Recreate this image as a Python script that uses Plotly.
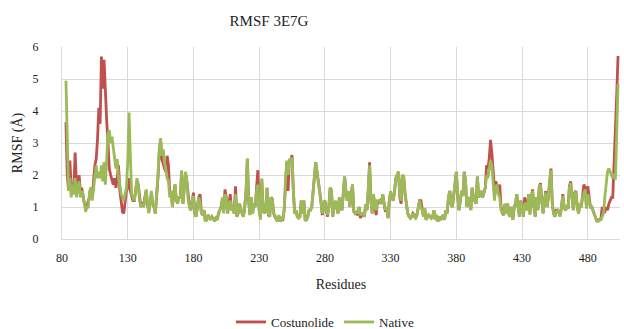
import plotly.graph_objects as go

start_residue = 83

native = [
    4.95, 2.6, 1.5, 1.9, 1.3, 1.7, 1.4, 1.9, 1.3, 1.6, 1.8, 1.3, 1.5, 1.4, 1.1, 0.85, 1.0, 1.0,
    1.5, 1.6, 1.2, 1.6, 1.9, 2.3, 1.9, 2.1, 1.9, 2.3, 1.8, 2.4, 1.7, 2.6, 3.3, 3.4, 3.0, 3.2, 2.8, 2.5,
    2.2, 2.5, 1.9, 1.7, 1.4, 1.3, 1.2, 1.4, 1.6, 2.4, 3.95, 2.6, 1.4, 1.3, 1.2, 1.5, 1.9, 1.7, 1.2, 1.0,
    1.1, 1.0, 1.2, 1.55, 1.1, 0.8, 1.1, 1.5, 1.1, 1.0, 0.8, 1.3, 2.0, 2.8, 3.15, 2.6, 2.8, 2.4, 2.1, 1.9,
    1.8, 1.3, 1.5, 1.0, 1.4, 1.7, 1.2, 1.1, 1.3, 1.3, 2.15, 1.1, 1.6, 2.1, 1.8, 1.2, 1.0, 0.9, 1.2, 1.35,
    0.8, 0.7, 1.0, 1.3, 1.15, 0.8, 0.75, 0.9, 0.55, 0.6, 0.75, 0.65, 0.6, 0.7, 0.65, 0.55, 0.65, 0.6, 0.8, 0.9,
    1.0, 1.3, 0.8, 1.4, 1.3, 0.8, 1.1, 1.2, 0.9, 1.0, 0.8, 1.4, 0.7, 0.8, 1.1, 0.9, 0.8, 0.7, 1.0, 1.5, 2.52,
    1.2, 0.75, 1.3, 0.8, 1.1, 1.0, 1.5, 1.7, 0.9, 0.6, 1.9, 0.9, 0.8, 0.9, 1.6, 0.8, 0.7, 1.3, 1.2, 0.8,
    0.75, 0.6, 0.55, 0.75, 0.55, 0.65, 0.6, 0.9, 1.8, 2.45, 2.0, 2.5, 2.4, 2.55, 1.5, 0.8, 0.9, 0.7, 0.65, 0.7,
    1.2, 0.8, 1.2, 0.6, 0.6, 0.7, 0.9, 0.9, 1.0, 1.4, 2.0, 2.4, 2.1, 1.8, 1.5, 1.2, 0.8, 1.0, 1.2, 0.9,
    0.75, 1.0, 1.6, 1.55, 0.7, 1.0, 1.2, 1.0, 0.8, 1.3, 1.0,
    0.9, 1.4, 1.95, 1.5, 1.2, 1.5, 1.0, 1.4, 1.7, 0.9, 0.8, 0.85, 0.8, 1.0, 0.75, 0.8, 0.8, 0.7, 1.1, 0.9,
    1.5, 2.3, 1.2, 0.8, 1.4, 1.0, 0.9, 1.2, 1.2, 1.2, 1.1, 1.4, 1.1, 0.9, 1.0, 0.65, 1.2, 1.5, 1.3, 1.2,
    1.5, 1.9, 2.0, 2.1, 1.4, 1.2, 2.0, 1.95, 1.4, 1.1, 0.8, 0.7, 0.65, 0.7, 0.8, 0.7, 0.65, 0.75, 1.0, 1.2,
    1.0, 0.9, 0.7, 0.95, 0.6, 0.7, 0.75, 0.7, 0.65, 0.7, 0.9,
    0.6, 0.75, 0.55, 0.7, 0.6, 0.7, 0.75, 0.6, 0.9, 0.8, 1.3, 1.5, 1.1, 1.0, 1.4, 1.6, 2.1, 1.4, 0.9, 1.2,
    1.5, 1.35, 2.1, 1.8, 1.0, 1.25, 1.3, 0.9, 1.6, 1.3, 1.2, 1.1, 1.95, 1.3, 1.4, 1.5, 1.3, 1.5, 1.6, 2.0,
    1.9, 2.2, 2.45, 2.3, 1.8, 1.2, 1.6, 1.7, 1.4, 1.3, 0.9, 0.8, 0.75, 1.1, 0.8, 1.1, 0.75, 0.7, 1.0, 0.6,
    1.0, 1.1, 1.4, 1.0, 0.7, 1.2, 1.0, 0.7, 1.1,
    1.1, 0.9, 1.4, 0.75, 1.3, 1.5, 1.0, 0.7, 1.3, 0.9, 1.6, 1.7, 1.2, 0.8, 1.2, 1.45, 1.0, 1.3, 1.8, 2.15,
    1.1, 0.8, 0.7, 0.85, 0.9, 0.8, 0.7, 1.0, 1.35, 1.0, 0.9, 1.0, 0.95, 1.6, 1.75, 1.3, 0.9, 1.4, 1.5, 1.0,
    0.8, 1.1, 1.0, 1.3, 1.45, 1.55, 0.95, 1.4, 1.2, 1.0, 1.0, 0.9, 0.8, 0.7, 0.55, 0.55, 0.6, 0.6, 0.7, 0.8,
    1.33, 1.75, 2.1, 2.2, 2.1, 1.95, 1.9, 2.05, 1.85, 3.3, 4.85,
]

costunolide = [
    3.65, 2.0, 1.5, 2.45, 1.6, 1.4, 1.6, 2.7, 1.7, 1.5, 2.0, 1.5, 1.6, 1.3, 1.1, 1.0, 1.0, 1.2,
    1.3, 1.6, 1.3, 1.8, 2.3, 2.5, 3.1, 4.1, 3.6, 5.7, 4.7, 5.6, 4.4, 3.7, 3.0, 2.2, 2.0, 1.8, 1.7, 1.9,
    1.6, 1.9, 2.3, 1.5, 1.1, 0.85, 0.8, 1.2, 1.5, 1.6, 1.9, 1.5, 1.3, 1.2, 1.2, 1.5, 1.8, 1.7, 1.3, 1.0,
    1.15, 1.0, 1.3, 1.5, 1.1, 0.85, 1.1, 1.45, 1.1, 1.0, 0.8, 1.3, 1.9, 2.7, 3.1, 2.5, 2.3, 2.2, 2.1, 2.6,
    2.3, 1.4, 1.5, 1.0, 1.45, 1.7, 1.2, 1.15, 1.3, 1.3, 2.1, 1.1, 1.6, 2.05, 1.8, 1.25, 1.0, 0.9, 1.2, 1.45,
    0.8, 0.7, 1.0, 1.3, 1.4, 0.85, 0.75, 0.9, 0.6, 0.6, 0.75, 0.65, 0.6, 0.7, 0.65, 0.6, 0.65, 0.6, 0.8, 0.9,
    1.0, 1.2, 0.85, 1.55, 1.3, 0.8, 1.1, 1.4, 0.9, 1.0, 0.8, 1.65, 0.7, 0.8, 1.1, 0.9, 0.8, 0.7, 1.0, 1.5, 2.5,
    1.2, 0.75, 1.3, 0.8, 1.1, 1.0, 1.6, 2.15, 0.9, 0.65, 1.85, 0.9, 0.8, 0.9, 1.6, 0.75, 0.7, 1.3, 1.25, 0.8,
    0.7, 0.6, 0.55, 0.7, 0.55, 0.6, 0.6, 0.9, 1.8, 2.4, 1.5, 2.5, 2.45, 2.62, 1.5, 0.8, 0.9, 0.7, 0.7, 0.7,
    1.2, 0.8, 1.2, 0.6, 0.6, 0.7, 0.9, 0.9, 1.0, 1.5, 1.9, 2.4, 2.1, 1.7, 1.5, 1.2, 0.75, 1.0, 1.2, 0.9,
    0.7, 1.0, 1.6, 1.5, 0.7, 1.0, 1.15, 1.0, 0.8, 1.3, 1.0,
    0.9, 1.4, 1.95, 1.5, 1.2, 1.5, 1.0, 1.4, 1.7, 0.85, 0.8, 0.8, 0.75, 1.0, 0.65, 0.8, 0.75, 0.7, 1.05, 0.9,
    1.5, 2.4, 1.2, 0.8, 1.35, 1.0, 0.75, 1.2, 1.15, 1.2, 1.1, 1.4, 1.1, 0.85, 1.0, 0.65, 1.2, 1.45, 1.3, 1.2,
    1.5, 1.9, 2.0, 2.1, 1.3, 1.1, 2.0, 1.9, 1.4, 1.1, 0.8, 0.7, 0.65, 0.7, 0.8, 0.75, 0.65, 0.75, 1.0, 1.2,
    1.2, 0.9, 0.7, 0.95, 0.6, 0.7, 0.75, 0.7, 0.65, 0.7, 0.9,
    0.6, 0.75, 0.55, 0.7, 0.6, 0.7, 0.75, 0.6, 0.9, 0.8, 1.3, 1.5, 1.1, 1.0, 1.4, 1.6, 2.1, 1.35, 0.9, 1.2,
    1.5, 1.35, 2.1, 1.8, 1.0, 1.2, 1.3, 0.9, 1.6, 1.3, 1.2, 1.1, 1.95, 1.3, 1.4, 1.5, 1.3, 1.5, 1.6, 2.3,
    2.2, 2.5, 3.1, 2.7, 2.2, 1.6, 1.8, 1.6, 1.5, 1.7, 1.0, 0.8, 0.75, 1.1, 0.8, 1.1, 0.8, 0.7, 1.0, 0.6,
    1.0, 1.1, 1.4, 1.0, 0.7, 1.2, 1.0, 0.7, 1.3,
    1.1, 0.9, 1.4, 0.8, 1.3, 1.55, 1.0, 0.7, 1.3, 0.9, 1.6, 1.75, 1.2, 0.8, 1.2, 1.5, 1.0, 1.3, 1.8, 2.2,
    1.1, 0.8, 0.7, 0.9, 0.9, 0.8, 0.75, 1.0, 1.4, 1.0, 0.9, 1.0, 0.95, 1.65, 1.8, 1.3, 0.9, 1.45, 1.5, 1.0,
    0.8, 1.1, 1.0, 1.35, 1.7, 1.6, 1.0, 1.65, 1.2, 1.0, 1.0, 0.9, 0.8, 0.7, 0.55, 0.6, 0.6, 0.65, 1.0, 0.8,
    0.85, 1.0, 0.9, 1.1, 1.2, 1.3, 1.3, 2.2, 3.1, 4.5, 5.72,
]

residues = list(range(start_residue, start_residue + len(native)))
residues_c = list(range(start_residue, start_residue + len(costunolide)))

x_ticks = list(range(80, 481, 50))
y_ticks = [0, 1, 2, 3, 4, 5, 6]

font_family = "Liberation Serif"
grid_color = "#d9d9d9"

fig = go.Figure()
fig.add_trace(go.Scatter(x=residues_c, y=costunolide, mode="lines", name="Costunolide",
                         line=dict(color="#c0504d", width=2.8)))
fig.add_trace(go.Scatter(x=residues, y=native, mode="lines", name="Native",
                         line=dict(color="#9bbb59", width=2.8)))

fig.update_layout(
    width=624, height=329,
    margin=dict(l=62, r=4, t=47, b=90),
    paper_bgcolor="white", plot_bgcolor="white",
    font=dict(family=font_family, color="#222222", size=12),
    title=dict(text="RMSF 3E7G", x=269 / 624, xref="container", xanchor="center",
               y=1 - 21 / 329, yref="container", yanchor="middle",
               font=dict(size=15, family=font_family, color="#222222")),
    showlegend=True,
    legend=dict(orientation="h", x=325 / 624, xanchor="center", xref="container",
                y=1 - 322 / 329, yref="container", yanchor="middle",
                font=dict(size=13, family=font_family), itemwidth=30,
                traceorder="normal"),
)
fig.update_xaxes(
    range=[80, 504.5], tickvals=x_ticks, ticktext=[str(v) for v in x_ticks],
    showgrid=True, gridcolor=grid_color, gridwidth=1,
    showline=True, linecolor=grid_color, linewidth=1,
    zeroline=False, ticks="", ticklabelstandoff=8,
    tickfont=dict(size=12, family=font_family, color="#222222"),
    title=dict(text="Residues", font=dict(size=14, family=font_family), standoff=14),
)
fig.update_yaxes(
    range=[0, 6], tickvals=y_ticks,
    showgrid=True, gridcolor=grid_color, gridwidth=1,
    showline=True, linecolor=grid_color, linewidth=1,
    zeroline=False, ticks="", ticklabelstandoff=20,
    tickfont=dict(size=12, family=font_family, color="#222222"),
    title=dict(text="RMSF (Å)", font=dict(size=14, family=font_family), standoff=6),
)

fig.write_html("out.html")
